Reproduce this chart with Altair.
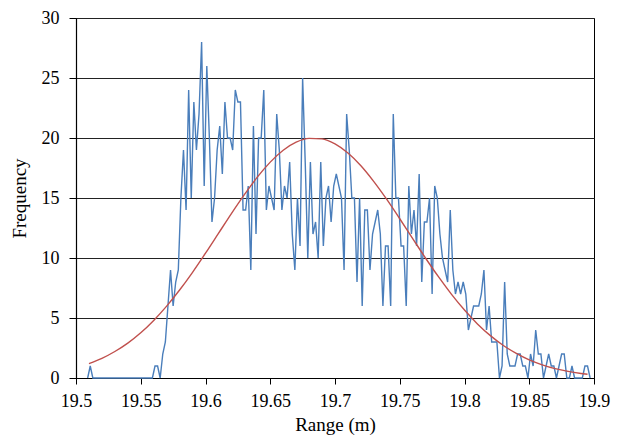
import altair as alt
import pandas as pd

# Histogram bins (bin centres start and width, in metres)
bin_start = 19.509
bin_width = 0.002
frequency = (
    [0, 1] + [0] * 24 +
    [1, 1, 0, 2, 3, 6, 9, 6, 8, 9, 15, 19, 14, 24, 15, 23, 19, 22, 28, 16,
     26, 20, 13, 15, 19, 21, 17, 23, 20, 20, 19, 24, 23, 23, 14, 14, 16, 9, 21, 12,
     20, 20, 24, 14, 16, 15, 14, 22, 19, 14, 16, 15, 18, 12, 9, 15, 11, 25, 18, 10,
     18, 12, 13, 10, 18, 11, 15, 16, 13, 16, 17, 16, 15, 9, 22, 19, 15, 15, 8, 15,
     6, 14, 14, 9, 12, 13, 14, 12, 6, 11, 11, 6, 22, 15, 15, 11, 11, 6, 16, 12,
     14, 11, 17, 8, 13, 13, 15, 7, 16, 15, 12, 10, 9, 8, 14, 9, 7, 8, 7, 8,
     7, 4, 5, 6, 6, 6, 7, 9, 4, 6, 3, 3, 3, 0, 1, 8, 2, 1, 1, 1,
     2, 2, 1, 1, 0, 2, 1, 4, 2, 2, 0, 1, 2, 1, 1, 0, 1, 2, 2, 0,
     0, 1, 0, 0, 0, 0, 1, 1, 0]
)
range_m = [round(bin_start + bin_width * i, 4) for i in range(len(frequency))]

# Fitted curve
fit_x = [19.51, 19.52, 19.53, 19.54, 19.55, 19.56, 19.57, 19.58, 19.59, 19.60,
         19.61, 19.62, 19.63, 19.64, 19.65, 19.66, 19.67, 19.68, 19.69, 19.70,
         19.71, 19.72, 19.73, 19.74, 19.75, 19.76, 19.77, 19.78, 19.79, 19.80,
         19.81, 19.82, 19.83, 19.84, 19.85, 19.86, 19.87, 19.88, 19.89, 19.895]
fit_y = [1.20, 1.64, 2.21, 2.91, 3.77, 4.80, 5.99, 7.33, 8.81, 10.40,
         12.05, 13.70, 15.28, 16.74, 17.99, 18.98, 19.65, 19.97, 19.93, 19.51,
         18.75, 17.69, 16.37, 14.88, 13.27, 11.62, 9.98, 8.42, 6.97, 5.66,
         4.51, 3.53, 2.71, 2.05, 1.51, 1.10, 0.78, 0.55, 0.38, 0.31]

x_ticks = [19.5, 19.55, 19.6, 19.65, 19.7, 19.75, 19.8, 19.85, 19.9]
y_ticks = [0, 5, 10, 15, 20, 25, 30]

hist_df = pd.DataFrame({"range": range_m, "freq": frequency})
fit_df = pd.DataFrame({"range": fit_x, "freq": fit_y})

FONT = "Liberation Serif"

x_enc = alt.X(
    "range:Q",
    scale=alt.Scale(domain=[19.5, 19.9], nice=False, zero=False),
    axis=alt.Axis(
        values=x_ticks, format=".2~f", title="Range (m)", grid=False,
        tickSize=6, tickColor="black", domainColor="black",
        labelPadding=8, titlePadding=5, labelFlush=False,
    ),
)
y_enc = alt.Y(
    "freq:Q",
    scale=alt.Scale(domain=[0, 30], nice=False),
    axis=alt.Axis(
        values=y_ticks, title="Frequency", grid=True, gridColor="#222222",
        gridWidth=1, tickSize=7, tickColor="black", domainColor="black",
        labelPadding=10, titlePadding=12, labelFlush=False,
    ),
)

hist = alt.Chart(hist_df).mark_line(color="#4a7ebb", strokeWidth=1.4).encode(
    x=x_enc, y=y_enc
)
fit = alt.Chart(fit_df).mark_line(
    color="#c0504d", strokeWidth=1.4, interpolate="monotone"
).encode(x="range:Q", y="freq:Q")

chart = (
    alt.layer(hist, fit)
    .properties(
        width=518, height=360,
        autosize=alt.AutoSizeParams(type="none"),
        padding={"left": 68, "top": 10, "right": 17, "bottom": 62},
    )
    .configure_view(stroke="black", strokeWidth=1)
    .configure_axis(
        labelFont=FONT, titleFont=FONT, labelFontSize=18, titleFontSize=19,
        labelColor="black", titleColor="black", titleFontWeight="normal",
        domainWidth=1.2,
    )
)

chart.save("out.html", embed_options={"renderer": "svg", "actions": False})
